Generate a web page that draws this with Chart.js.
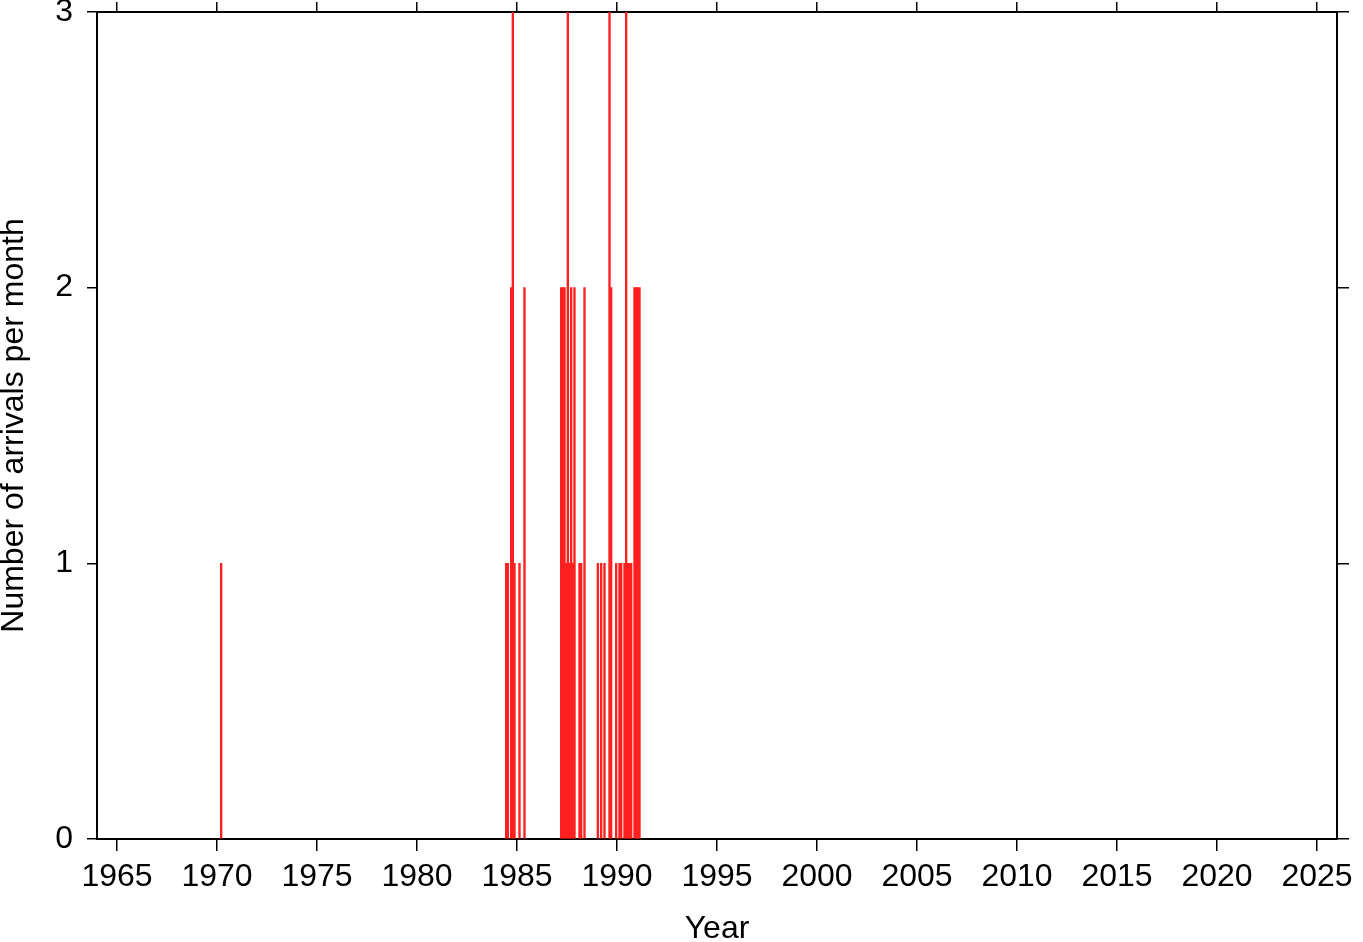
<!DOCTYPE html>
<html>
<head>
<meta charset="utf-8">
<title>Number of arrivals per month</title>
<script src="https://cdn.jsdelivr.net/npm/chart.js@4.4.1/dist/chart.umd.min.js"></script>
<style>
  html, body { margin: 0; padding: 0; background: #fff; }
  canvas { display: block; }
</style>
</head>
<body>
<canvas id="arrivalsChart" width="1363" height="942"></canvas>
<script>
// months with at least one arrival (all others are zero)
var arrivalMonths = [
  '1970-03',
  '1984-06', '1984-07', '1984-09', '1984-10', '1984-11',
  '1985-02', '1985-05',
  '1987-03', '1987-04', '1987-05', '1987-06', '1987-07', '1987-08', '1987-09', '1987-10', '1987-11',
  '1988-02', '1988-03', '1988-05',
  '1989-01', '1989-03', '1989-05', '1989-08', '1989-09', '1989-12',
  '1990-02', '1990-03', '1990-05', '1990-06', '1990-07', '1990-08', '1990-09', '1990-11', '1990-12',
  '1991-01', '1991-02'
];
var arrivalCounts = [
  1,
  1, 1, 2, 3, 1,
  1, 2,
  2, 2, 2, 1, 3, 1, 2, 1, 2,
  1, 1, 2,
  1, 1, 1, 3, 2, 1,
  1, 1, 1, 3, 1, 1, 1, 2, 2,
  2, 2
];
var yearTicks = [1965, 1970, 1975, 1980, 1985, 1990, 1995, 2000, 2005, 2010, 2015, 2020, 2025];
var countTicks = [0, 1, 2, 3];

var FONT = '"Liberation Sans", Arial, Helvetica, sans-serif';

// bar sits in the middle of its month
function monthToYear(s) {
  var p = s.split('-');
  return parseInt(p[0], 10) + (parseInt(p[1], 10) - 0.5) / 12;
}

var points = arrivalMonths.map(function(m, i) {
  return { x: monthToYear(m), y: arrivalCounts[i] };
});

function setTicks(list) {
  return function(scale) {
    scale.ticks = list.map(function(v) { return { value: v }; });
  };
}

// fixed box size, and no extra room for labels hanging over the ends
function fixSize(w, h) {
  return function(scale) {
    if (w != null) scale.width = w;
    if (h != null) scale.height = h;
    scale.paddingTop = 0;
    scale.paddingBottom = 0;
    scale.paddingLeft = 0;
    scale.paddingRight = 0;
  };
}

function frameGrid(len) {
  return {
    drawOnChartArea: false,
    drawTicks: true,
    offset: false,
    tickLength: len,
    color: '#000',
    lineWidth: 1.5
  };
}
var frameBorder = { display: true, color: '#000', width: 2 };

var ctx = document.getElementById('arrivalsChart').getContext('2d');
var chart = new Chart(ctx, {
  type: 'bar',
  data: {
    datasets: [{
      data: points,
      backgroundColor: '#ff2020',
      borderWidth: 0,
      barThickness: 1.7
    }]
  },
  options: {
    responsive: false,
    animation: false,
    layout: { padding: 0, autoPadding: false },
    plugins: {
      legend: { display: false },
      tooltip: { enabled: false }
    },
    scales: {
      x: {
        type: 'linear',
        position: 'bottom',
        min: 1964,
        max: 2026,
        offset: false,
        afterBuildTicks: setTicks(yearTicks),
        afterFit: fixSize(null, 103),
        grid: frameGrid(12),
        border: frameBorder,
        ticks: {
          color: '#000',
          padding: 7,
          maxRotation: 0,
          autoSkip: false,
          font: { family: FONT, size: 32 },
          callback: function(v) { return String(v); }
        },
        title: {
          display: true,
          text: 'Year',
          color: '#000',
          padding: 0,
          font: { family: FONT, size: 32, lineHeight: 0.8 }
        }
      },
      xTop: {
        type: 'linear',
        position: 'top',
        min: 1964,
        max: 2026,
        offset: false,
        afterBuildTicks: setTicks(yearTicks),
        afterFit: fixSize(null, 12),
        grid: frameGrid(10),
        border: frameBorder,
        ticks: { display: false }
      },
      y: {
        type: 'linear',
        position: 'left',
        min: 0,
        max: 3,
        offset: false,
        afterBuildTicks: setTicks(countTicks),
        afterFit: fixSize(97, null),
        grid: frameGrid(10),
        border: frameBorder,
        ticks: {
          color: '#000',
          padding: 14,
          font: { family: FONT, size: 32 }
        },
        title: {
          display: true,
          text: 'Number of arrivals per month',
          color: '#000',
          padding: 0,
          font: { family: FONT, size: 32, lineHeight: 0.9 }
        }
      },
      yRight: {
        type: 'linear',
        position: 'right',
        min: 0,
        max: 3,
        offset: false,
        afterBuildTicks: setTicks(countTicks),
        afterFit: fixSize(26, null),
        grid: frameGrid(12),
        border: frameBorder,
        ticks: { display: false }
      }
    }
  }
});
</script>
</body>
</html>
